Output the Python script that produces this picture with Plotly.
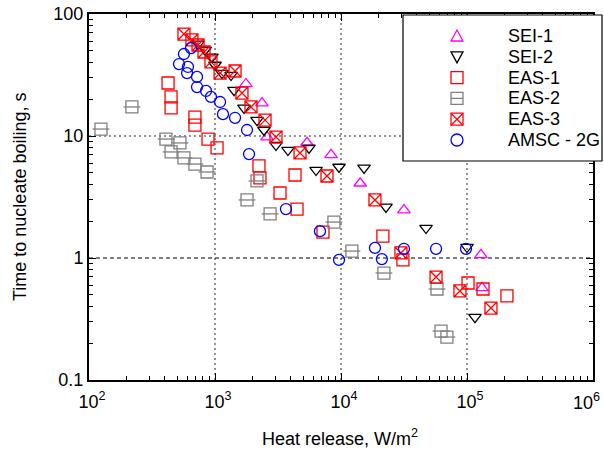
import plotly.graph_objects as go

# ---------------- data ----------------
sei1_x = [1760, 2360, 2590, 5370, 8340, 14200, 31600, 129000, 131500]
sei1_y = [26.7, 18.6, 9.8, 8.8, 7.0, 4.1, 2.47, 1.06, 0.57]

sei2_x = [733, 834, 946, 1000, 1138, 1340, 1416, 1698, 2154, 2448, 3048, 3793,
          5570, 6340, 9640, 15240, 22750, 47300, 100000, 115700]
sei2_y = [56.8, 50.7, 44.5, 38.2, 32.8, 31.6, 23.8, 17.0, 13.5, 11.2, 8.43, 7.67,
          7.98, 5.26, 5.57, 5.47, 2.62, 1.76, 1.23, 0.328]

eas1_x = [424, 448, 448, 693, 693, 880, 1038, 2233, 2275, 3280, 4315, 4477,
          7194, 21500, 31000, 101900, 134000, 207500]
eas1_y = [27.2, 20.9, 17.0, 14.3, 12.3, 9.44, 7.98, 5.68, 4.53, 3.41, 4.79, 2.52,
          1.63, 1.51, 0.964, 0.624, 0.557, 0.489]

eas2_x = [124.5, 219, 408, 527, 448, 567, 693, 865, 1795, 2154, 2736, 8790,
          12200, 21900, 57800, 62200, 69300]
eas2_y = [11.4, 17.3, 9.44, 8.77, 7.40, 6.61, 5.89, 5.07, 2.99, 4.28, 2.30, 1.97,
          1.14, 0.753, 0.557, 0.252, 0.225]

eas3_x = [567, 656, 733, 818, 929, 1097, 1442, 1637, 1931, 2495, 3048, 4730,
          7740, 18600, 29900, 56800, 87900, 155000]
eas3_y = [68.5, 61.3, 55.7, 48.8, 40.5, 32.8, 34.1, 22.5, 17.3, 13.5, 9.8, 7.26,
          4.70, 2.99, 1.10, 0.698, 0.537, 0.389]

amsc_x = [645, 567, 518, 610, 600, 720, 720, 849, 929, 1097, 1157, 1442, 1795,
          1862, 3656, 6810, 9640, 18600, 21100, 31600, 56800, 98200]
amsc_y = [52.6, 47.0, 38.9, 36.8, 32.8, 30.5, 25.2, 23.4, 20.9, 19.0, 15.1, 14.1,
          11.2, 7.11, 2.52, 1.66, 0.964, 1.21, 0.98, 1.19, 1.19, 1.19]

series_names = ["SEI-1", "SEI-2", "EAS-1", "EAS-2", "EAS-3", "AMSC - 2G"]

x_tickvals = [1e2, 1e3, 1e4, 1e5, 1e6]
x_ticktext = ["10<sup>2</sup>", "10<sup>3</sup>", "10<sup>4</sup>", "10<sup>5</sup>", "10<sup>6</sup>"]
y_tickvals = [0.1, 1, 10, 100]
y_ticktext = ["0.1", "1", "10", "100"]

x_grid = [1e3, 1e4, 1e5]
y_grid_dotted = [10]
y_grid_dashed = [1]

x_title = "Heat release, W/m<sup>2</sup>"
y_title = "Time to nucleate boiling, s"

# ---------------- style ----------------
FONT = "Liberation Sans, Arial, sans-serif"
W, H = 604, 459
L, R, T, B = 89, 593, 14, 380
PW, PH = R - L, B - T
MAG, BLK, RED, GRY, BLU = "#ff00ff", "#000000", "#ff0000", "#808080", "#0000ff"
LW = 1.3

fig = go.Figure()


def add(x, y, name, symbol, color, size):
    fig.add_trace(go.Scatter(
        x=x, y=y, mode="markers", name=name, showlegend=False,
        marker=dict(symbol=symbol, size=size, color=color,
                    line=dict(color=color, width=LW)),
    ))


add(sei1_x, sei1_y, series_names[0], "triangle-up-open", MAG, 11)
add(sei2_x, sei2_y, series_names[1], "triangle-down-open", BLK, 11)
add(eas1_x, eas1_y, series_names[2], "square-open", RED, 12)
add(eas2_x, eas2_y, series_names[3], "square-open", GRY, 12)
add(eas2_x, eas2_y, series_names[3], "line-ew-open", GRY, 12)
add(eas3_x, eas3_y, series_names[4], "square-x-open", RED, 12)
add(amsc_x, amsc_y, series_names[5], "circle-open", BLU, 11)

minor_x = [m * 10 ** e for e in range(2, 6) for m in range(2, 10)]
minor_y = [m * 10 ** e for e in range(-1, 2) for m in range(2, 10)]

axis_common = dict(
    type="log", showline=True, linecolor="black", linewidth=2, mirror="allticks",
    ticks="inside", ticklen=7, tickcolor="black", tickwidth=1,
    showgrid=False, zeroline=False,
    tickfont=dict(family=FONT, size=18, color="black"),
)

# the last x label is drawn separately (nudged left so it fits inside the page)
x_ticktext_axis = x_ticktext[:-1] + [""]

fig.update_xaxes(
    range=[2, 6], tickmode="array", tickvals=x_tickvals, ticktext=x_ticktext_axis,
    ticklabelshift=3, ticklabelstandoff=4,
    minor=dict(tickmode="array", tickvals=minor_x, ticks="inside", ticklen=4,
               tickcolor="black", showgrid=False),
    **axis_common,
)
fig.update_yaxes(
    range=[-1, 2], tickmode="array", tickvals=y_tickvals, ticktext=y_ticktext,
    minor=dict(tickmode="array", tickvals=minor_y, ticks="inside", ticklen=4,
               tickcolor="black", showgrid=False),
    **axis_common,
)


def px(xp):
    return (xp - L) / PW


def py(yp):
    return (B - yp) / PH


shapes = []
# grid lines
for gx in x_grid:
    shapes.append(dict(type="line", xref="x", yref="paper", x0=gx, x1=gx, y0=0, y1=1,
                       layer="below", line=dict(color="#707070", width=1.5, dash="2px,3px")))
for gy in y_grid_dotted:
    shapes.append(dict(type="line", xref="paper", yref="y", x0=0, x1=1, y0=gy, y1=gy,
                       layer="below", line=dict(color="#707070", width=1.5, dash="2px,3px")))
for gy in y_grid_dashed:
    shapes.append(dict(type="line", xref="paper", yref="y", x0=0, x1=1, y0=gy, y1=gy,
                       layer="below", line=dict(color="black", width=1, dash="4px,3px")))

# legend box
LEG_L, LEG_R, LEG_T, LEG_B = 403, 602, 15, 161
shapes.append(dict(type="rect", xref="paper", yref="paper",
                   x0=px(LEG_L), x1=px(LEG_R), y0=py(LEG_B), y1=py(LEG_T),
                   fillcolor="white", line=dict(color="black", width=1.2),
                   layer="above"))

row_y = [36 + 20.8 * i for i in range(len(series_names))]
sym_x = 457
s = 6  # half symbol size in px


def poly(points, color):
    d = "M " + " L ".join(f"{px(a):.5f},{py(b):.5f}" for a, b in points) + " Z"
    return dict(type="path", xref="paper", yref="paper", path=d, layer="above",
                line=dict(color=color, width=LW))


def seg(p1, p2, color):
    return dict(type="line", xref="paper", yref="paper", layer="above",
                x0=px(p1[0]), y0=py(p1[1]), x1=px(p2[0]), y1=py(p2[1]),
                line=dict(color=color, width=LW))


for i, name in enumerate(series_names):
    cy = row_y[i]
    cx = sym_x
    if i == 0:
        shapes.append(poly([(cx - s, cy + 5), (cx + s, cy + 5), (cx, cy - 6)], MAG))
    elif i == 1:
        shapes.append(poly([(cx - s, cy - 5), (cx + s, cy - 5), (cx, cy + 6)], BLK))
    elif i in (2, 3, 4):
        col = GRY if i == 3 else RED
        shapes.append(poly([(cx - s, cy - s), (cx + s, cy - s), (cx + s, cy + s), (cx - s, cy + s)], col))
        if i == 3:
            shapes.append(seg((cx - s, cy), (cx + s, cy), col))
        if i == 4:
            shapes.append(seg((cx - s, cy - s), (cx + s, cy + s), col))
            shapes.append(seg((cx - s, cy + s), (cx + s, cy - s), col))
    else:
        shapes.append(dict(type="circle", xref="paper", yref="paper", layer="above",
                           x0=px(cx - s), x1=px(cx + s), y0=py(cy + s), y1=py(cy - s),
                           line=dict(color=BLU, width=LW)))

annotations = []
for i, name in enumerate(series_names):
    annotations.append(dict(text=name, xref="paper", yref="paper", x=px(506), y=py(row_y[i]),
                            xanchor="left", yanchor="middle", showarrow=False,
                            font=dict(family=FONT, size=18, color="black")))

# last x tick label
annotations.append(dict(text=x_ticktext[-1], xref="paper", yref="paper", x=1.0, y=py(401),
                        xanchor="right", yanchor="middle", xshift=9, showarrow=False,
                        font=dict(family=FONT, size=18, color="black")))

annotations.append(dict(text=x_title, xref="paper", yref="paper", x=px(340), y=py(437),
                        xanchor="center", yanchor="middle", showarrow=False,
                        font=dict(family=FONT, size=18, color="black")))
annotations.append(dict(text=y_title, xref="paper", yref="paper", x=px(20), y=0.5,
                        xanchor="center", yanchor="middle", showarrow=False, textangle=-90,
                        font=dict(family=FONT, size=18, color="black")))

fig.update_layout(
    width=W, height=H,
    margin=dict(l=L, r=W - R, t=T, b=H - B, autoexpand=False),
    paper_bgcolor="white", plot_bgcolor="white",
    showlegend=False, shapes=shapes, annotations=annotations,
    font=dict(family=FONT, size=18, color="black"),
)

fig.write_html("out.html", config={"displayModeBar": False},
               post_script="document.body.style.margin='0';")
